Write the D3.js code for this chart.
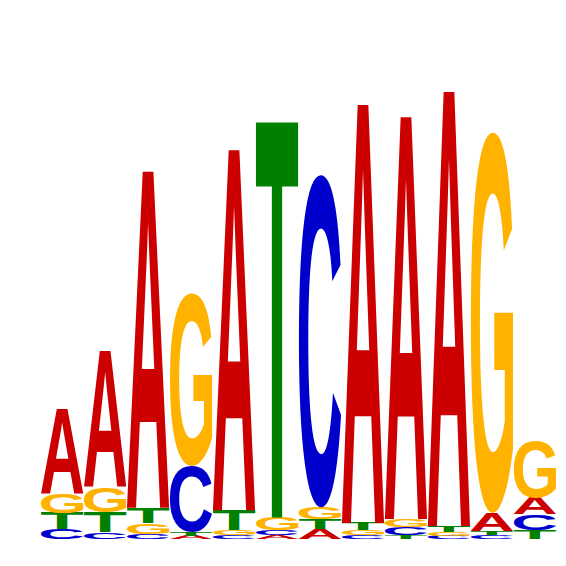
<!DOCTYPE html>
<html>
<head>
<meta charset="utf-8">
<script src="https://cdn.jsdelivr.net/npm/d3@7"></script>
<style>
  html, body { margin: 0; padding: 0; background: #fff; }
  svg { display: block; }
</style>
</head>
<body>
<svg id="chart" width="566" height="566"></svg>
<script>
// Sequence logo data (information content, bits) per position
const positions = [1, 2, 3, 4, 5, 6, 7, 8, 9, 10, 11, 12];
const bases = ["A", "C", "G", "T"];
const baseA = [0.351, 0.564, 1.403, 0.013, 1.503, 0.017, 0.040, 1.745, 1.678, 1.812, 0.075, 0.068];
const baseC = [0.042, 0.029, 0.021, 0.276, 0.017, 0.019, 1.386, 0.017, 0.032, 0.014, 0.016, 0.066];
const baseG = [0.079, 0.104, 0.046, 0.718, 0.019, 0.054, 0.050, 0.021, 0.034, 0.015, 1.587, 0.234];
const baseT = [0.067, 0.084, 0.063, 0.015, 0.084, 1.649, 0.042, 0.029, 0.017, 0.025, 0.018, 0.038];

const colors = { A: "#CC0000", C: "#0000CC", G: "#FFB300", T: "#008000" };
const values = { A: baseA, C: baseC, G: baseG, T: baseT };

const FAMILY = "'Liberation Sans'";
const FS = 100;
const FONT = `bold ${FS}px ${FAMILY}`;

// exact ink box of a glyph by rasterising it large on a canvas
function inkBox(ch) {
  const big = 1000;
  const c = document.createElement("canvas");
  c.width = 1400; c.height = 1400;
  const ctx = c.getContext("2d");
  ctx.font = `bold ${big}px ${FAMILY}`;
  ctx.fillStyle = "#000";
  const ox = 200, oy = 1100;
  ctx.fillText(ch, ox, oy);
  const data = ctx.getImageData(0, 0, c.width, c.height).data;
  let minX = c.width, maxX = -1, minY = c.height, maxY = -1;
  for (let yy = 0; yy < c.height; yy++) {
    for (let xx = 0; xx < c.width; xx++) {
      if (data[(yy * c.width + xx) * 4 + 3] > 127) {
        if (xx < minX) minX = xx;
        if (xx > maxX) maxX = xx;
        if (yy < minY) minY = yy;
        if (yy > maxY) maxY = yy;
      }
    }
  }
  const k = FS / big;
  return {
    left: (ox - minX) * k,
    right: (maxX + 1 - ox) * k,
    ascent: (oy - minY) * k,
    descent: (maxY + 1 - oy) * k
  };
}

function draw() {
  const svg = d3.select("#chart");
  const x = d3.scaleBand().domain(positions).range([41, 556]).paddingInner(0.02).paddingOuter(0);
  const y = d3.scaleLinear().domain([0, 2]).range([539, 60]);

  const metrics = {};
  bases.forEach(b => { metrics[b] = inkBox(b); });

  const stacks = positions.map((p, i) => {
    const items = bases.map(b => ({ base: b, value: values[b][i] }))
      .sort((a, b) => a.value - b.value);
    let acc = 0;
    items.forEach(d => { d.y0 = acc; acc += d.value; d.y1 = acc; d.pos = p; });
    return items;
  });

  const g = svg.append("g");
  stacks.forEach(items => {
    items.forEach(d => {
      const m = metrics[d.base];
      const x0 = x(d.pos);
      const w = x.bandwidth();
      const top = y(d.y1);
      const h = y(d.y0) - y(d.y1);
      if (h <= 0) return;
      const sx = w / (m.left + m.right);
      const sy = h / (m.ascent + m.descent);
      g.append("text")
        .attr("x", 0)
        .attr("y", 0)
        .attr("transform", `translate(${x0},${top}) scale(${sx},${sy}) translate(${m.left},${m.ascent})`)
        .style("font", FONT)
        .attr("fill", colors[d.base])
        .text(d.base);
    });
  });
}

if (document.fonts && document.fonts.load) {
  document.fonts.load(FONT, "ACGT").then(draw, draw);
} else {
  draw();
}
</script>
</body>
</html>
